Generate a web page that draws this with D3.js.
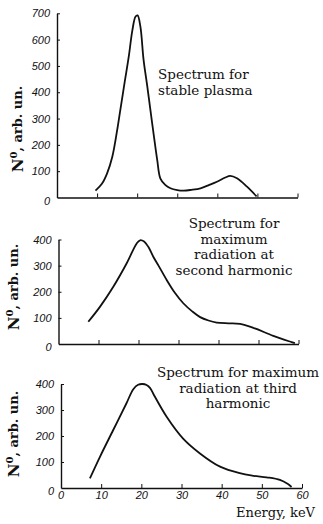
<!DOCTYPE html>
<html>
<head>
<meta charset="utf-8">
<script src="https://cdnjs.cloudflare.com/ajax/libs/d3/7.8.5/d3.min.js"></script>
<style>
  body { margin: 0; background: #fff; }
  .tick text { font-family: "Liberation Sans", sans-serif; font-style: italic; font-size: 11px; fill: #111; }
  .domain { stroke: #111; stroke-width: 1.4; }
  .tick line { stroke: #111; stroke-width: 1; }
  .ttl { font-family: "DejaVu Serif", serif; font-size: 13.5px; fill: #111; }
  .ylab { font-family: "DejaVu Serif", serif; font-weight: bold; font-size: 13px; fill: #111; }
</style>
</head>
<body>
<script>

// energy (keV) and counts
var energyStable = [9.6, 11.2, 12.5, 13.8, 15, 15.8, 16.9, 17.9, 18.8, 19.6, 20.1, 20.8, 21.6, 22.5, 23.3, 24.2, 25, 25.8, 27, 28.3, 30, 31.6, 33.5, 35.8, 38, 39.9, 42, 43.2, 44.9, 47.4, 49.8];
var countsStable = [26, 52, 92, 155, 255, 333, 440, 535, 635, 688, 692, 650, 523, 425, 333, 230, 143, 72, 48, 35, 28, 26, 29, 35, 48, 60, 76, 82, 73, 41, 4];

var energySecond = [7.45, 10.4, 13.7, 17.05, 19.55, 20.4, 21.4, 22.45, 23.7, 25, 27.05, 29, 31.2, 33.5, 35.4, 37.5, 39.55, 42.5, 45.4, 48.7, 53.7, 58.3, 59.1];
var countsSecond = [85, 143, 219, 309, 385, 397, 392, 372, 334, 300, 245, 198, 156, 124, 103, 90, 82, 79, 77, 62, 31, 7, 3];

var energyThird = [7.2, 9.7, 13, 16.3, 18, 19.2, 20.3, 21.3, 22.2, 23.2, 26.3, 30.4, 34.6, 39.6, 44.5, 48, 51.2, 54.5, 56.5, 57.4];
var countsThird = [37, 120, 223, 326, 380, 397, 400, 396, 384, 356, 274, 190, 133, 82, 57, 47, 41, 31, 15, 4];

var xTicks = [0, 10, 20, 30, 40, 50, 60];
var yTicksStable = [0, 100, 200, 300, 400, 500, 600, 700];
var yTicksSecond = [0, 100, 200, 300, 400];
var yTicksThird = [0, 100, 200, 300, 400];

var titleStable = ["Spectrum for", "stable plasma"];
var titleSecond = ["Spectrum for", "maximum", "radiation at", "second harmonic"];
var titleThird = ["Spectrum for maximum", "radiation at third", "harmonic"];

var svg = d3.select("body").append("svg").attr("width", 323).attr("height", 524);

var panels = [
  { e: energyStable, n: countsStable, yt: yTicksStable, ymax: 700, x0: 57, x1: 297.5, y0: 197.5, y1: 13.3, title: titleStable, tx: 158, ty: 79, anchor: "start", lx: 18, ly: 129, xlabels: false },
  { e: energySecond, n: countsSecond, yt: yTicksSecond, ymax: 400, x0: 58.5, x1: 298.5, y0: 344, y1: 239.5, title: titleSecond, tx: 234, ty: 228, anchor: "middle", lx: 14, ly: 287, xlabels: false },
  { e: energyThird, n: countsThird, yt: yTicksThird, ymax: 400, x0: 61, x1: 302, y0: 488, y1: 384, title: titleThird, tx: 238, ty: 377, anchor: "middle", lx: 14, ly: 434, xlabels: true }
];

panels.forEach(function (p) {
  var x = d3.scaleLinear().domain([0, 60]).range([p.x0, p.x1]);
  var y = d3.scaleLinear().domain([0, p.ymax]).range([p.y0, p.y1]);

  var xAxis = d3.axisBottom(x).tickValues(xTicks.slice(1)).tickSize(-4).tickSizeOuter(0);
  if (!p.xlabels) xAxis.tickFormat("");
  var gx = svg.append("g").attr("transform", "translate(0," + p.y0 + ")").call(xAxis);
  gx.selectAll(".tick text").attr("y", 11).attr("dy", 0);
  if (p.xlabels) {
    gx.append("g").attr("class", "tick").attr("transform", "translate(" + x(0) + ",0)")
      .append("text").attr("y", 11).attr("text-anchor", "middle").text("0");
  }

  var yAxis = d3.axisLeft(y).tickValues(p.yt).tickSize(-3).tickPadding(7).tickSizeOuter(0);
  var gy = svg.append("g").attr("transform", "translate(" + p.x0 + ",0)").call(yAxis);
  gy.selectAll(".tick text").attr("x", -7).attr("dy", function (d) { return d == 0 ? "0.6em" : "0.32em"; });
  gy.selectAll(".tick").filter(function (d) { return d == 0; }).select("line").remove();

  var pts = p.e.map(function (v, i) { return [v, p.n[i]]; });
  var line = d3.line().x(function (d) { return x(d[0]); }).y(function (d) { return y(d[1]); }).curve(d3.curveCatmullRom.alpha(0.5));
  svg.append("path").datum(pts).attr("d", line).attr("fill", "none").attr("stroke", "#111").attr("stroke-width", 1.8);

  var t = svg.append("text").attr("class", "ttl").attr("text-anchor", p.anchor);
  p.title.forEach(function (s, i) {
    t.append("tspan").attr("x", p.tx).attr("y", p.ty + i * 15.5).text(s);
  });

  var yl = svg.append("text").attr("class", "ylab").attr("text-anchor", "middle")
    .attr("transform", "translate(" + (p.lx + 5) + "," + p.ly + ") rotate(-90)");
  yl.append("tspan").attr("font-size", "15px").text("N");
  yl.append("tspan").attr("font-size", "10px").attr("dy", "-0.6em").text("0");
  yl.append("tspan").attr("dy", "0.4em").text(", arb. un.");
});

svg.append("text").attr("class", "ttl").attr("text-anchor", "end").attr("x", 315).attr("y", 517).style("font-size", "13px").text("Energy, keV");

</script>
</body>
</html>
